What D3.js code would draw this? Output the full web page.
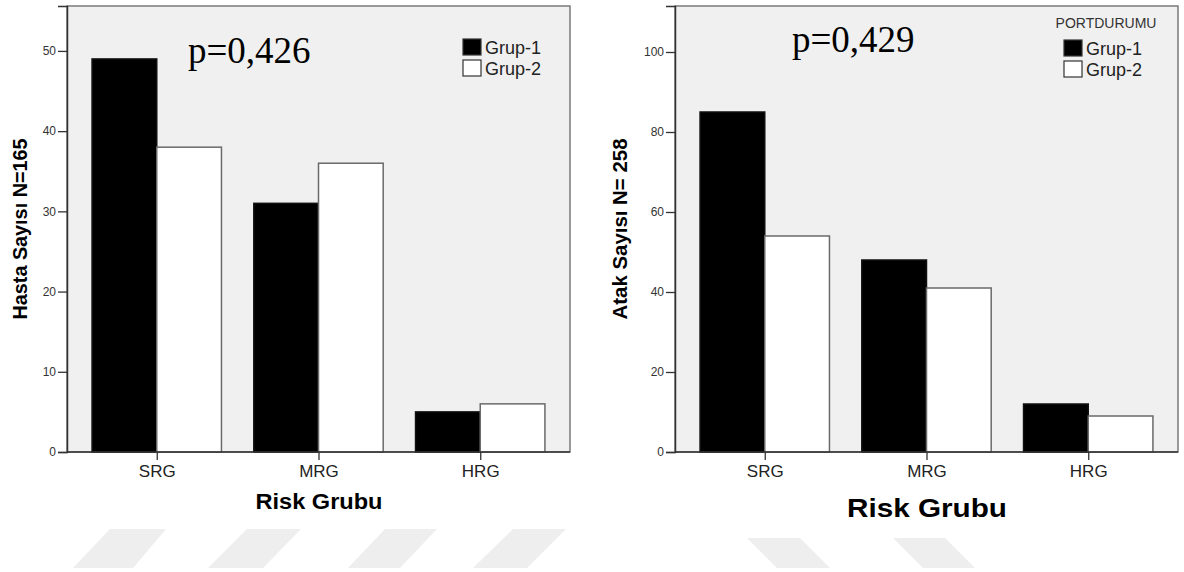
<!DOCTYPE html>
<html>
<head>
<meta charset="utf-8">
<script src="https://cdn.jsdelivr.net/npm/d3@7"></script>
<style>
  body { margin: 0; background: #fff; }
  svg { display: block; font-family: "Liberation Sans", Arial, sans-serif; }
</style>
</head>
<body>
<svg id="chart" width="1184" height="572"></svg>
<script>
// data
const categories = ["SRG", "MRG", "HRG"];
const groupNames = ["Grup-1", "Grup-2"];
const hastaGrup1 = [49, 31, 5];
const hastaGrup2 = [38, 36, 6];
const atakGrup1 = [85, 48, 12];
const atakGrup2 = [54, 41, 9];
const hastaTicks = [0, 10, 20, 30, 40, 50];
const atakTicks = [0, 20, 40, 60, 80, 100];

const svg = d3.select("#chart");
const groupColor = d3.scaleOrdinal().domain(groupNames).range(["#000000", "#ffffff"]);
const groupStroke = d3.scaleOrdinal().domain(groupNames).range(["#111111", "#6a6a6a"]);

// light watermark shapes at the bottom
const wm = svg.append("g").attr("fill", "#eeeeee");
[[110, 166, 73, 133], [247, 301, 208, 263], [385, 437, 348, 400], [513, 566, 473, 527]].forEach(function (p) {
  wm.append("polygon").attr("points", `${p[0]},529 ${p[1]},529 ${p[3]},568 ${p[2]},568`);
});
[[747, 800, 777, 830], [893, 945, 923, 975]].forEach(function (p) {
  wm.append("polygon").attr("points", `${p[0]},538 ${p[1]},538 ${p[3]},568 ${p[2]},568`);
});

function drawChart(opts) {
  const top = 6, bottom = 452;
  const left = opts.left, right = opts.right;
  const g = svg.append("g");

  const x = d3.scaleBand().domain(categories).range([left, right])
    .paddingInner(0.2).paddingOuter(0.155);
  const xg = d3.scaleBand().domain(groupNames).range([0, x.bandwidth()]);
  const y = d3.scaleLinear().domain([0, opts.yMax]).range([bottom, top]);

  // plot background + frame
  g.append("rect")
    .attr("x", left).attr("y", top)
    .attr("width", right - left).attr("height", bottom - top)
    .attr("fill", "#f0f0f0")
    .attr("stroke", "#7a7a7a").attr("stroke-width", 1.5);

  // bars
  const rows = categories.map(function (c, i) {
    return { cat: c, values: [opts.g1[i], opts.g2[i]] };
  });
  g.selectAll(".cat").data(rows).join("g")
    .attr("transform", function (d) { return "translate(" + x(d.cat) + ",0)"; })
    .selectAll("rect")
    .data(function (d) { return d.values.map(function (v, j) { return { name: groupNames[j], v: v }; }); })
    .join("rect")
    .attr("x", function (d) { return xg(d.name); })
    .attr("y", function (d) { return y(d.v); })
    .attr("width", xg.bandwidth())
    .attr("height", function (d) { return bottom - y(d.v); })
    .attr("fill", function (d) { return groupColor(d.name); })
    .attr("stroke", function (d) { return groupStroke(d.name); })
    .attr("stroke-width", 1.5);

  // y axis
  const yAxis = g.append("g")
    .attr("transform", "translate(" + left + ",0)")
    .call(d3.axisLeft(y).tickValues(opts.ticks).tickSize(9).tickPadding(2));
  yAxis.select(".domain").attr("stroke", "#333").attr("stroke-width", 1.5);
  yAxis.selectAll(".tick line").attr("stroke", "#333").attr("stroke-width", 1.3);
  yAxis.selectAll(".tick text")
    .attr("fill", "#333").style("font-size", "12px")
    .style("font-family", "Liberation Sans, Arial, sans-serif");

  // x axis
  const xAxis = g.append("g")
    .attr("transform", "translate(0," + bottom + ")")
    .call(d3.axisBottom(d3.scalePoint().domain(categories)
      .range([x(categories[0]) + x.bandwidth() / 2, x(categories[2]) + x.bandwidth() / 2]))
      .tickSize(8).tickPadding(5).tickSizeOuter(0));
  xAxis.select(".domain").attr("d", "M" + left + ",0H" + right)
    .attr("stroke", "#333").attr("stroke-width", 1.5);
  xAxis.selectAll(".tick line").attr("stroke", "#333").attr("stroke-width", 1.3);
  xAxis.selectAll(".tick text")
    .attr("fill", "#222").style("font-size", "17px")
    .style("font-family", "Liberation Sans, Arial, sans-serif");

  // axis titles
  g.append("text")
    .attr("transform", "translate(" + opts.yTitleX + ",229) rotate(-90)")
    .attr("text-anchor", "middle")
    .attr("font-weight", "bold").attr("font-size", "21px")
    .attr("textLength", 181).attr("lengthAdjust", "spacingAndGlyphs")
    .text(opts.yTitle);

  g.append("text")
    .attr("x", opts.xTitleX).attr("y", opts.xTitleY)
    .attr("text-anchor", "middle")
    .attr("font-weight", "bold").attr("font-size", opts.xTitleSize + "px")
    .attr("textLength", opts.xTitleLen).attr("lengthAdjust", "spacingAndGlyphs")
    .text("Risk Grubu");

  // p value
  g.append("text")
    .attr("x", opts.pX).attr("y", opts.pY)
    .attr("font-family", "Liberation Serif, Times New Roman, serif")
    .attr("font-size", "37px")
    .text(opts.pText);

  // legend
  const lg = g.append("g");
  if (opts.legendTitle) {
    lg.append("text")
      .attr("x", opts.legX + 42).attr("y", 28)
      .attr("text-anchor", "middle")
      .attr("fill", "#333").attr("font-size", "14px")
      .text(opts.legendTitle);
  }
  groupNames.forEach(function (name, i) {
    lg.append("rect")
      .attr("x", opts.legX).attr("y", opts.legY + i * 21)
      .attr("width", 18).attr("height", 16)
      .attr("fill", groupColor(name))
      .attr("stroke", "#333").attr("stroke-width", 1.2);
    lg.append("text")
      .attr("x", opts.legX + 22).attr("y", opts.legY + 15 + i * 21)
      .attr("fill", "#222").attr("font-size", "18px")
      .text(name);
  });
}

drawChart({
  left: 67, right: 570, yMax: 55.6,
  g1: hastaGrup1, g2: hastaGrup2, ticks: hastaTicks,
  yTitle: "Hasta Sayısı N=165", yTitleX: 27,
  xTitleX: 319, xTitleY: 509, xTitleSize: 22, xTitleLen: 127,
  pText: "p=0,426", pX: 188, pY: 63,
  legX: 463, legY: 39
});

drawChart({
  left: 675, right: 1178, yMax: 111.5,
  g1: atakGrup1, g2: atakGrup2, ticks: atakTicks,
  yTitle: "Atak Sayısı N= 258", yTitleX: 627,
  xTitleX: 927, xTitleY: 517, xTitleSize: 26, xTitleLen: 160,
  pText: "p=0,429", pX: 792, pY: 52,
  legX: 1064, legY: 40, legendTitle: "PORTDURUMU"
});
</script>
</body>
</html>
